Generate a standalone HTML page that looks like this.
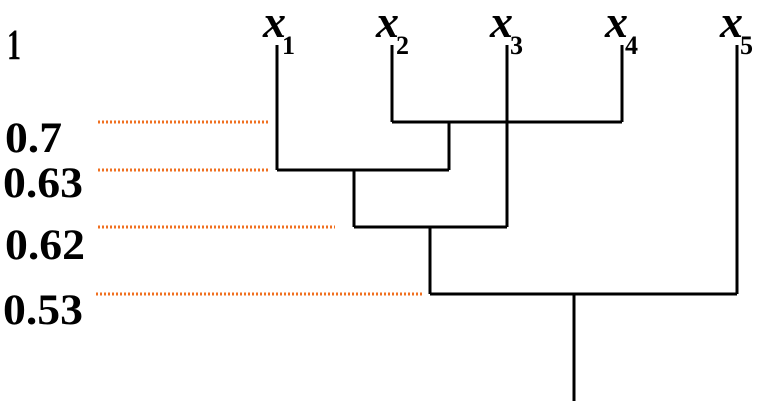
<!DOCTYPE html>
<html><head><meta charset="utf-8"><style>
body{margin:0;background:#fff;width:767px;height:401px;overflow:hidden}
</style></head><body>
<svg width="767" height="401" xmlns="http://www.w3.org/2000/svg" font-family="Liberation Serif, serif" font-weight="bold">
<g stroke="#000" stroke-width="3" fill="none">
<path d="M277 45V170M392 45V122M507 45V227M622 45V122M737 45V294"/>
<path d="M392 122H622M449 122V170M277 170H449M354 170V227M354 227H507M430 227V294M430 294H737M574 294V401"/>
</g>
<g stroke="#f07020" stroke-width="3" stroke-dasharray="2 2">
<path d="M98 122H268M98 170H268M98 227H335M96 294H422"/>
</g>
<g font-size="43" fill="#000">
<text x="7" y="59" textLength="14" lengthAdjust="spacingAndGlyphs">1</text>
<text x="5" y="152" textLength="57" lengthAdjust="spacingAndGlyphs">0.7</text>
<text x="3" y="197" textLength="80" lengthAdjust="spacingAndGlyphs">0.63</text>
<text x="5" y="259" textLength="80" lengthAdjust="spacingAndGlyphs">0.62</text>
<text x="3" y="324" textLength="80" lengthAdjust="spacingAndGlyphs">0.53</text>
</g>
<g fill="#000">
<text x="263" y="37" font-size="46" font-style="italic">x</text><text x="282" y="54" font-size="26">1</text>
<text x="376" y="37" font-size="46" font-style="italic">x</text><text x="396" y="54" font-size="26">2</text>
<text x="490" y="37" font-size="46" font-style="italic">x</text><text x="510" y="54" font-size="26">3</text>
<text x="605" y="37" font-size="46" font-style="italic">x</text><text x="625" y="54" font-size="26">4</text>
<text x="720" y="37" font-size="46" font-style="italic">x</text><text x="740" y="54" font-size="26">5</text>
</g>
</svg>
</body></html>
